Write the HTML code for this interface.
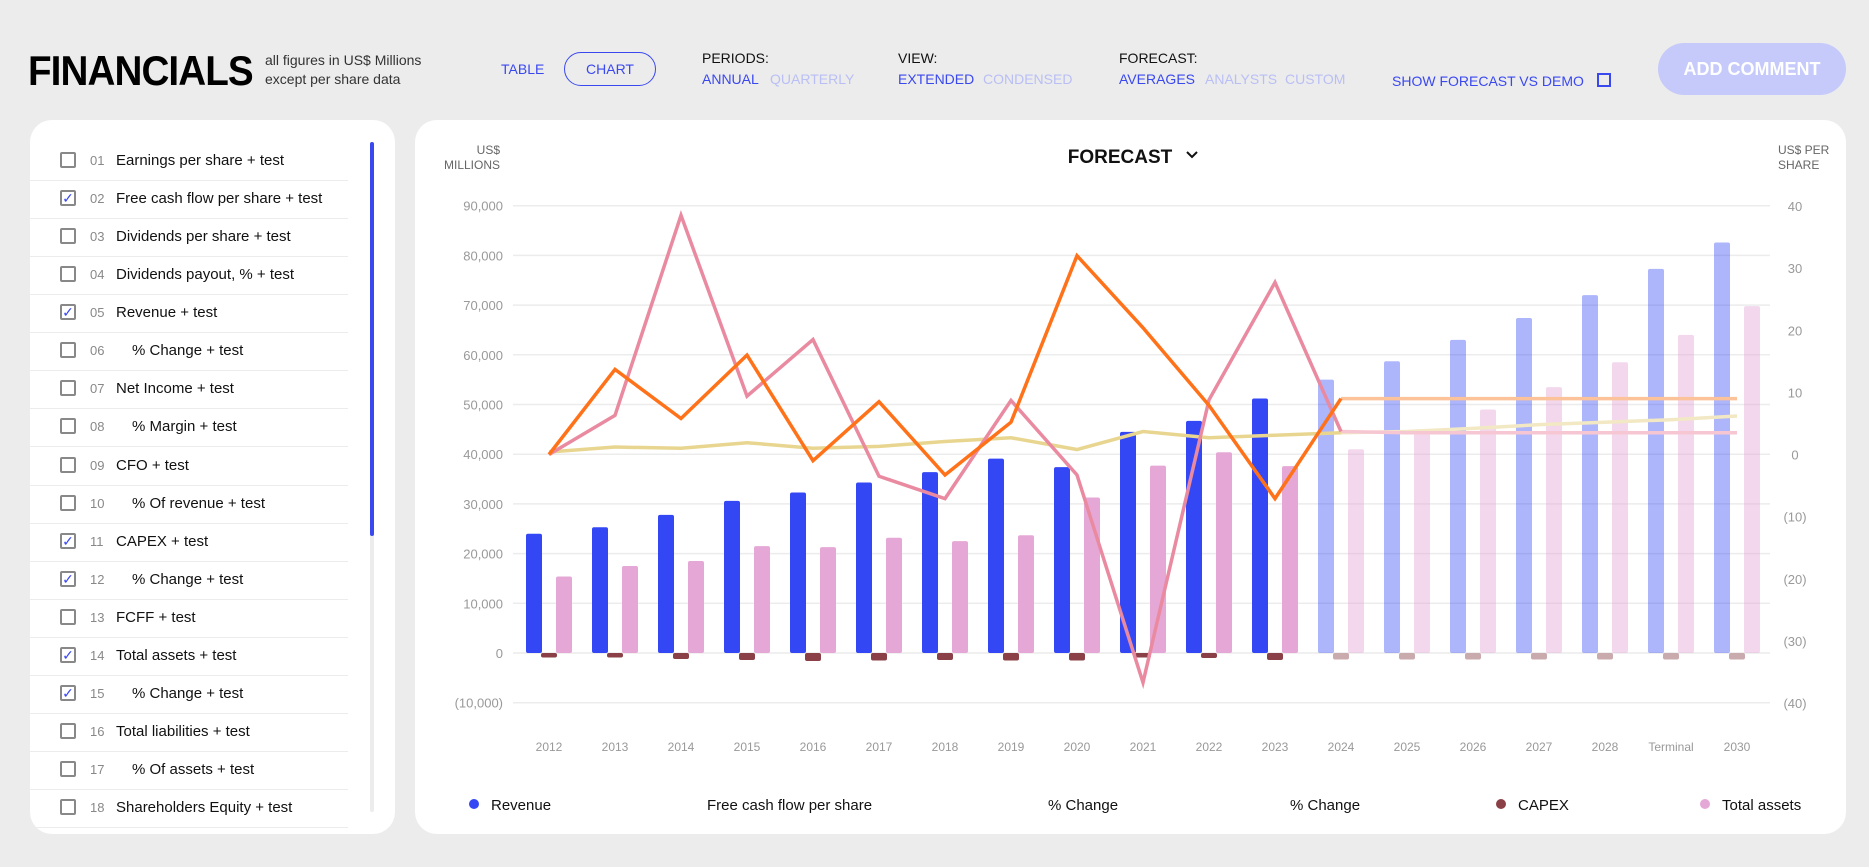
<!DOCTYPE html>
<html><head><meta charset="utf-8"><style>
body{margin:0;width:1869px;height:867px;background:#ececec;font-family:"Liberation Sans",sans-serif;position:relative;overflow:hidden}
.a{position:absolute;white-space:nowrap}
.blue{color:#3a48f0}.lb{color:#b9bff5}
.hdr{font-size:15px;color:#111}
.opt{font-size:14px}
.panel{position:absolute;background:#fff;border-radius:22px;overflow:hidden}
.row{position:absolute;left:30px;width:288px;height:38px;border-bottom:1px solid #ececec}
.cb{position:absolute;left:30px;top:10px;width:16px;height:16px;border:2px solid #888;border-radius:2px;box-sizing:border-box;font-size:14px;line-height:12px;text-align:center;color:#3a48f0}
.num{position:absolute;left:60px;top:11px;font-size:13px;color:#888}
.lab{position:absolute;left:86px;top:10px;font-size:15px;color:#111}
</style></head><body>
<div class="a" style="left:28px;top:47px;font-size:42px;font-weight:bold;letter-spacing:-1px;color:#000;transform:scaleX(0.92);transform-origin:0 0">FINANCIALS</div>
<div class="a" style="left:265px;top:51px;font-size:14px;line-height:19px;color:#333">all figures in US$ Millions<br>except per share data</div>
<div class="a blue" style="left:501px;top:61px;font-size:14px">TABLE</div>
<div class="a blue" style="left:564px;top:52px;width:90px;height:32px;border:1.5px solid #3a48f0;border-radius:18px;text-align:center;line-height:32px;font-size:14px">CHART</div>
<div class="a hdr" style="left:702px;top:50px;font-size:14px">PERIODS:</div>
<div class="a blue opt" style="left:702px;top:71px">ANNUAL</div>
<div class="a lb opt" style="left:770px;top:71px">QUARTERLY</div>
<div class="a hdr" style="left:898px;top:50px;font-size:14px">VIEW:</div>
<div class="a blue opt" style="left:898px;top:71px">EXTENDED</div>
<div class="a lb opt" style="left:983px;top:71px">CONDENSED</div>
<div class="a hdr" style="left:1119px;top:50px;font-size:14px">FORECAST:</div>
<div class="a blue opt" style="left:1119px;top:71px">AVERAGES</div>
<div class="a lb opt" style="left:1205px;top:71px">ANALYSTS</div>
<div class="a lb opt" style="left:1285px;top:71px">CUSTOM</div>
<div class="a blue opt" style="left:1392px;top:73px">SHOW FORECAST VS DEMO</div>
<div class="a" style="left:1597px;top:73px;width:14px;height:14px;border:2px solid #3a48f0;box-sizing:border-box"></div>
<div class="a" style="left:1658px;top:43px;width:188px;height:52px;border-radius:26px;background:#c5cafa;color:#fff;font-size:18px;font-weight:bold;text-align:center;line-height:52px">ADD COMMENT</div>

<div class="panel" style="left:30px;top:120px;width:365px;height:714px">
<div id="rows"></div>
<div class="a" style="left:340px;top:22px;width:4px;height:670px;background:#ececec;border-radius:2px"></div>
<div class="a" style="left:340px;top:22px;width:4px;height:394px;background:#3a48f0;border-radius:2px"></div>
</div>
<div class="panel" style="left:415px;top:120px;width:1431px;height:714px"></div>
<svg id="chart" width="1869" height="867" style="position:absolute;left:0;top:0" font-family="Liberation Sans, sans-serif"></svg>
<script>
const items=[["01","Earnings per share + test",0,0],["02","Free cash flow per share + test",1,0],["03","Dividends per share + test",0,0],["04","Dividends payout, % + test",0,0],["05","Revenue + test",1,0],["06","% Change + test",0,1],["07","Net Income + test",0,0],["08","% Margin + test",0,1],["09","CFO + test",0,0],["10","% Of revenue + test",0,1],["11","CAPEX + test",1,0],["12","% Change + test",1,1],["13","FCFF + test",0,0],["14","Total assets + test",1,0],["15","% Change + test",1,1],["16","Total liabilities + test",0,0],["17","% Of assets + test",0,1],["18","Shareholders Equity + test",0,0]];
const rows=document.getElementById('rows');
items.forEach((it,i)=>{const r=document.createElement('div');r.className='row';r.style.top=(22+i*38.07)+'px';r.style.left='0';r.style.width='318px';


r.innerHTML='<div class="cb">'+(it[2]?'✓':'')+'</div><div class="num">'+it[0]+'</div><div class="lab" style="left:'+(it[3]?102:86)+'px">'+it[1]+'</div>';


rows.appendChild(r);});

const categories=["2012","2013","2014","2015","2016","2017","2018","2019","2020","2021","2022","2023","2024","2025","2026","2027","2028","Terminal","2030"];
const revenue=[24000,25300,27800,30600,32300,34300,36400,39100,37400,44500,46700,51200,55000,58700,63000,67400,72000,77300,82600];
const totalAssets=[15400,17500,18500,21500,21300,23200,22500,23700,31300,37700,40400,37600,41000,45000,49000,53500,58500,64000,69800];
const capex=[-900,-900,-1200,-1400,-1600,-1500,-1400,-1500,-1500,-900,-1000,-1400,-1300,-1300,-1300,-1300,-1300,-1300,-1300];
const fcfChange=[0,13.7,5.8,16,-1,8.5,-3.3,5.2,32,20.4,7.9,-7.1,9,9,9,9,9,9,9];
const capexChange=[0,6.3,38.5,9.4,18.5,-3.5,-7.1,8.7,-3.3,-36.7,8.8,27.7,3.7,3.5,3.5,3.5,3.5,3.5,3.5];
const fcfPerShare=[0.4,1.2,1,1.9,1,1.3,2.1,2.7,0.8,3.7,2.7,3.1,3.5,3.7,4.2,4.8,5.2,5.6,6.2];
const leftTicks=[90000,80000,70000,60000,50000,40000,30000,20000,10000,0,-10000];
const leftTickLabels=["90,000","80,000","70,000","60,000","50,000","40,000","30,000","20,000","10,000","0","(10,000)"];
const rightTicks=[40,30,20,10,0,-10,-20,-30,-40];
const rightTickLabels=["40","30","20","10","0","(10)","(20)","(30)","(40)"];
const forecastStart=12;

const svg=document.getElementById('chart');const NS='http://www.w3.org/2000/svg';
function el(t,a,txt){const e=document.createElementNS(NS,t);for(const k in a)e.setAttribute(k,a[k]);if(txt!==undefined)e.textContent=txt;svg.appendChild(e);return e;}
const yL=v=>653-v*49.7/10000;
const yR2=v=>454.5-v*(497/80);
const xC=i=>549+i*66;
leftTicks.forEach((v,i)=>{let g=el('line',{x1:513,x2:1770,y1:yL(v),y2:yL(v),stroke:'#ececec','stroke-width':1.5});
let t=el('text',{x:503,y:yL(v)+5,'text-anchor':'end','font-size':13,fill:'#999'},leftTickLabels[i]);});
rightTicks.forEach((v,i)=>{let t=el('text',{x:1795,y:yR2(v)+5,'text-anchor':'middle','font-size':13,fill:'#999'},rightTickLabels[i]);});
categories.forEach((c,i)=>{let t=el('text',{x:xC(i),y:751,'text-anchor':'middle','font-size':12,fill:'#999'},c);
const op=i>=forecastStart?0.4:1;
let b=el('rect',{x:xC(i)-23,y:yL(revenue[i]),width:16,height:yL(0)-yL(revenue[i]),fill:'#3347f5',opacity:op,rx:2});
let p=el('rect',{x:xC(i)+7,y:yL(totalAssets[i]),width:16,height:yL(0)-yL(totalAssets[i]),fill:'#e5a8d6',opacity:i>=forecastStart?0.45:1,rx:2});
let k=el('rect',{x:xC(i)-8,y:yL(0),width:16,height:yL(capex[i])-yL(0),fill:i>=forecastStart?'#c9aaad':'#8b4047',rx:2});});
function line(arr,col,fcol,w,name){
 const pts=(a,b)=>arr.slice(a,b).map((v,j)=>xC(a+j)+','+yR2(v)).join(' ');
 let f=el('polyline',{points:pts(forecastStart,arr.length),fill:'none',stroke:fcol,'stroke-width':w,'stroke-linejoin':'round'});
 let l=el('polyline',{points:pts(0,forecastStart+1),fill:'none',stroke:col,'stroke-width':w,'stroke-linejoin':'miter'});}
line(fcfPerShare,'#e8d690','#f2e8c4',3.5,'fcf-per-share');
line(capexChange,'#ea8aa0','#f6c7d2',3.5,'capex-change');
line(fcfChange,'#ff7219','#fcc29a',3.5,'fcf-change');
let tt=el('text',{x:1120,y:163,'text-anchor':'middle','font-size':19,'font-weight':'bold',fill:'#111'},'FORECAST');
let ch=el('path',{d:'M1187 152 l5 5 l5 -5',fill:'none',stroke:'#111','stroke-width':2});
let a1=el('text',{x:500,y:154,'text-anchor':'end','font-size':12,fill:'#666'},'US$');
let a2=el('text',{x:500,y:169,'text-anchor':'end','font-size':12,fill:'#666'},'MILLIONS');
let a3=el('text',{x:1778,y:154,'font-size':12,fill:'#666'},'US$ PER');
let a4=el('text',{x:1778,y:169,'font-size':12,fill:'#666'},'SHARE');
const legend=[[474,'#3347f5','Revenue'],[707,null,'Free cash flow per share'],[1048,null,'% Change'],[1290,null,'% Change'],[1501,'#8b4047','CAPEX'],[1705,'#e5a8d6','Total assets']];
legend.forEach(l=>{if(l[1]){let d=el('circle',{cx:l[0],cy:804,r:5,fill:l[1]});}
let t=el('text',{x:l[1]?l[0]+17:l[0],y:810,'font-size':15,fill:'#111'},l[2]);});
</script>
</body></html>
